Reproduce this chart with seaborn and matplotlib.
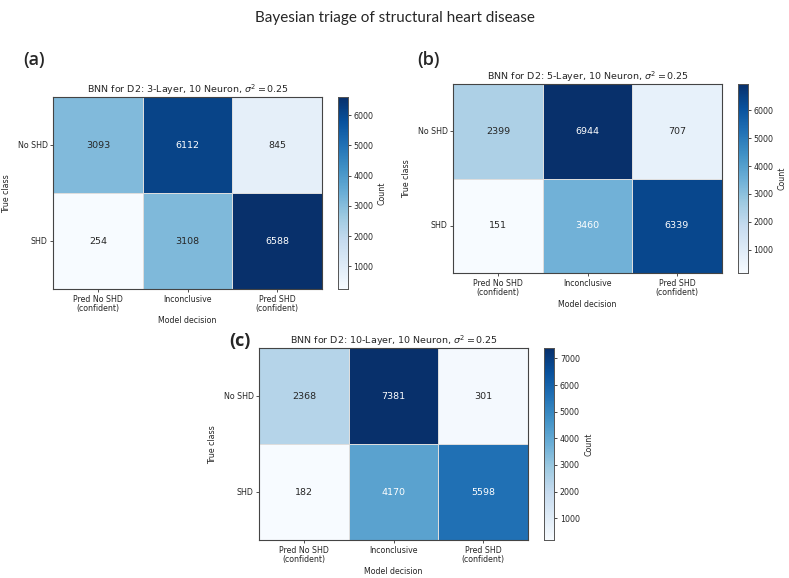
import numpy as np
import pandas as pd
import matplotlib
matplotlib.use("Agg")
import matplotlib.pyplot as plt
import seaborn as sns

true_classes = ["No SHD", "SHD"]
decisions = ["Pred No SHD\n(confident)", "Inconclusive", "Pred SHD\n(confident)"]

titles = [
    r"BNN for D2: 3-Layer, 10 Neuron, $\sigma^2 = 0.25$",
    r"BNN for D2: 5-Layer, 10 Neuron, $\sigma^2 = 0.25$",
    r"BNN for D2: 10-Layer, 10 Neuron, $\sigma^2 = 0.25$",
]
panel_labels = ["(a)", "(b)", "(c)"]

counts_a_noshd = [3093, 6112, 845]
counts_a_shd = [254, 3108, 6588]
counts_b_noshd = [2399, 6944, 707]
counts_b_shd = [151, 3460, 6339]
counts_c_noshd = [2368, 7381, 301]
counts_c_shd = [182, 4170, 5598]

cbar_ticks_ab = [1000, 2000, 3000, 4000, 5000, 6000]
cbar_ticks_c = [1000, 2000, 3000, 4000, 5000, 6000, 7000]

sns.set_style("white")
plt.rcParams['font.family'] = ['DejaVu Sans']

W, H = 789, 578
fig = plt.figure(figsize=(W / 100, H / 100), dpi=100)

def frac(l, t, r, b):
    return [l / W, 1 - b / H, (r - l) / W, (b - t) / H]

# pixel boxes: heatmap, colorbar
boxes = [
    ((53.3, 97.3, 321.7, 289), (338.3, 97.3, 347.7, 289)),
    ((453.3, 84, 721.7, 273.3), (738.3, 84, 747.7, 273.3)),
    ((259.3, 348.3, 527.7, 540), (544.3, 348.3, 554.3, 540)),
]
data_rows = [
    (counts_a_noshd, counts_a_shd, cbar_ticks_ab),
    (counts_b_noshd, counts_b_shd, cbar_ticks_ab),
    (counts_c_noshd, counts_c_shd, cbar_ticks_c),
]

FS = 5.7
for i in range(3):
    (hb, cb) = boxes[i]
    r0, r1, ticks = data_rows[i]
    df = pd.DataFrame([r0, r1], index=true_classes, columns=decisions)
    ax = fig.add_axes(frac(*hb))
    cax = fig.add_axes(frac(*cb))
    sns.heatmap(df, ax=ax, cbar_ax=cax, cmap="Blues", annot=True, fmt="d",
                annot_kws={"fontsize": 6.8}, linewidths=0.4, linecolor="#dddddd",
                cbar_kws={"label": "Count", "ticks": ticks})
    for s in ax.spines.values():
        s.set_visible(True)
        s.set_color("#444444")
        s.set_linewidth(0.8)
    ax.set_title(titles[i], fontsize=6.8, pad=3)
    ax.set_xlabel("Model decision", fontsize=FS, labelpad=2.5)
    ax.set_ylabel("True class", fontsize=FS, labelpad=5)
    ax.tick_params(axis="both", labelsize=FS, length=2.5, width=0.6, color="#333333",
                   bottom=True, left=True, pad=1.5)
    ax.set_yticklabels(true_classes, rotation=0)
    ax.set_xticklabels(decisions, rotation=0)
    for t in ax.get_xticklabels():
        t.set_linespacing(1.0)
    cax.tick_params(labelsize=FS, length=2.5, width=0.6, pad=1.5)
    cax.yaxis.label.set_size(FS)
    cax.yaxis.labelpad = 3
    for s in cax.spines.values():
        s.set_visible(True)
        s.set_color("#555555")
        s.set_linewidth(0.6)

fig.text(0.5, 1 - 18 / H, "Bayesian triage of structural heart disease",
         ha="center", va="center", fontsize=11, family=["Lato", "DejaVu Sans"])
fig.text(34 / W, 1 - 60 / H, "(a)", ha="center", va="center", fontsize=13,
         fontweight="semibold", family=["Open Sans", "DejaVu Sans"])
fig.text(428 / W, 1 - 60 / H, "(b)", ha="center", va="center", fontsize=13,
         fontweight="semibold", family=["Open Sans", "DejaVu Sans"])
fig.text(240 / W, 1 - 341 / H, "(c)", ha="center", va="center", fontsize=13,
         fontweight="bold", family=["Open Sans", "DejaVu Sans"])

fig.savefig("out.png", dpi=100)
